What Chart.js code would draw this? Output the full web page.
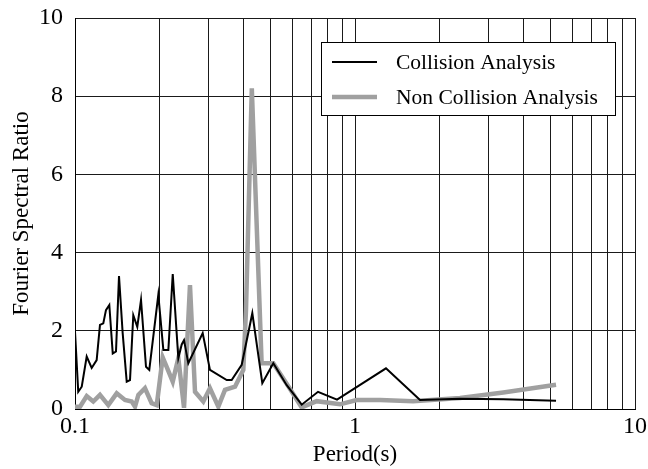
<!DOCTYPE html>
<html>
<head>
<meta charset="utf-8">
<script src="https://cdn.jsdelivr.net/npm/chart.js@4.4.1/dist/chart.umd.min.js"></script>
<style>
  html, body { margin: 0; padding: 0; background: #fff; }
  #wrap { width: 648px; height: 469px; }
</style>
</head>
<body>
<div id="wrap"><canvas id="spectra"></canvas></div>
<script>
// periods (s) and Fourier spectral ratios
const collisionPeriod = [0.1, 0.1027, 0.1057, 0.1101, 0.1147, 0.1195, 0.1228, 0.1262, 0.129, 0.1326,
  0.1364, 0.1401, 0.1436, 0.148, 0.153, 0.1572, 0.1615, 0.1669, 0.1721, 0.1793,
  0.1842, 0.1984, 0.2068, 0.2155, 0.2234, 0.2339, 0.2405, 0.2451, 0.2539, 0.2858,
  0.3034, 0.3482, 0.3627, 0.3939, 0.4298, 0.4666, 0.5108, 0.5703, 0.6451, 0.7378,
  0.8625, 1.29, 1.707, 2.371, 3.385, 5.224];
const collisionRatio = [1.98, 0.44, 0.57, 1.34, 1.05, 1.25, 2.15, 2.19, 2.53, 2.66,
  1.42, 1.47, 3.4, 1.94, 0.7, 0.74, 2.4, 2.1, 2.79, 1.08,
  1.0, 2.92, 1.51, 1.51, 3.45, 1.3, 1.65, 1.76, 1.17, 1.94,
  1.0, 0.74, 0.74, 1.13, 2.45, 0.66, 1.17, 0.61, 0.11, 0.44,
  0.24, 1.04, 0.23, 0.26, 0.25, 0.21];

const nonCollisionPeriod = [0.1, 0.1042, 0.1101, 0.1162, 0.1228, 0.1315, 0.1409, 0.1508, 0.1594, 0.1638,
  0.1684, 0.1778, 0.1878, 0.1959, 0.2057, 0.2125, 0.2234, 0.2339, 0.2451, 0.2574,
  0.2683, 0.2872, 0.3034, 0.325, 0.3433, 0.3728, 0.3991, 0.408, 0.428, 0.464,
  0.5108, 0.5855, 0.6451, 0.7295, 0.8838, 1.0136, 1.2296, 1.6124, 2.371, 3.385, 5.224];
const nonCollisionRatio = [0.06, 0.06, 0.33, 0.19, 0.36, 0.1, 0.4, 0.23, 0.19, 0.06,
  0.36, 0.53, 0.15, 0.1, 1.32, 1.08, 0.7, 1.3, 0.03, 3.17,
  0.44, 0.19, 0.53, 0.06, 0.49, 0.57, 1.0, 2.53, 8.2, 1.17,
  1.17, 0.52, 0.04, 0.2, 0.12, 0.23, 0.23, 0.2, 0.28, 0.42, 0.62];

const xGridTicks = [0.1, 0.2, 0.3, 0.4, 0.5, 0.6, 0.7, 0.8, 0.9,
  1, 2, 3, 4, 5, 6, 7, 8, 9, 10];
const xTickLabels = { 0.1: '0.1', 1: '1', 10: '10' };

function toPoints(xs, ys) {
  return xs.map((x, i) => ({ x: x, y: ys[i] }));
}

const serif = 'Liberation Serif';

// legend drawn as a framed box inside the plot, upper right
const boxLegend = {
  id: 'boxLegend',
  afterDraw(chart) {
    const ctx = chart.ctx;
    const left = 321, top = 42, w = 294, h = 73;
    ctx.save();
    ctx.fillStyle = '#fff';
    ctx.fillRect(left, top, w, h);
    ctx.strokeStyle = '#000';
    ctx.lineWidth = 1;
    ctx.strokeRect(left + 0.5, top + 0.5, w, h);
    chart.data.datasets.forEach((ds, i) => {
      const y = top + 20 + i * 35;
      ctx.strokeStyle = ds.borderColor;
      ctx.lineWidth = ds.borderWidth;
      ctx.beginPath();
      ctx.moveTo(left + 11, y);
      ctx.lineTo(left + 56, y);
      ctx.stroke();
      ctx.fillStyle = '#000';
      ctx.font = '21.5px ' + serif;
      ctx.textBaseline = 'middle';
      ctx.fillText(ds.label, left + 75, y + 1);
    });
    ctx.restore();
  }
};

new Chart(document.getElementById('spectra'), {
  type: 'line',
  data: {
    datasets: [{
      label: 'Collision Analysis',
      data: toPoints(collisionPeriod, collisionRatio),
      borderColor: '#000',
      borderWidth: 2,
      pointRadius: 0,
      tension: 0,
      order: 1
    }, {
      label: 'Non Collision Analysis',
      data: toPoints(nonCollisionPeriod, nonCollisionRatio),
      borderColor: '#a0a0a0',
      borderWidth: 4.5,
      pointRadius: 0,
      tension: 0,
      order: 2
    }]
  },
  options: {
    responsive: true,
    maintainAspectRatio: false,
    animation: false,
    layout: { padding: { top: 18, right: 13, left: 0, bottom: 0 } },
    plugins: {
      legend: { display: false },
      tooltip: { enabled: false }
    },
    scales: {
      x: {
        type: 'logarithmic',
        min: 0.1,
        max: 10,
        afterBuildTicks: function (scale) {
          scale.ticks = xGridTicks.map(v => ({ value: v }));
        },
        afterFit: function (scale) {
          scale.height = 60;
          scale.paddingLeft = 0;
          scale.paddingRight = 0;
        },
        grid: { color: '#1a1a1a', lineWidth: 1, drawTicks: false },
        border: { color: '#000', width: 1 },
        ticks: {
          autoSkip: false,
          maxRotation: 0,
          padding: 3,
          color: '#000',
          font: { family: serif, size: 24 },
          callback: function (value) {
            return xTickLabels[value] || '';
          }
        },
        title: {
          display: true,
          text: 'Period(s)',
          color: '#000',
          font: { family: serif, size: 23 },
          padding: { top: 0, bottom: 0 }
        }
      },
      y: {
        min: 0,
        max: 10,
        afterFit: function (scale) {
          scale.width = 75;
          // let the layout padding alone fix the plot top
          scale.paddingTop = 0;
          scale.paddingBottom = 0;
        },
        grid: { color: '#1a1a1a', lineWidth: 1, drawTicks: false },
        border: { color: '#000', width: 1 },
        ticks: {
          stepSize: 2,
          padding: 12,
          color: '#000',
          font: { family: serif, size: 24 }
        },
        title: {
          display: true,
          text: 'Fourier Spectral Ratio',
          color: '#000',
          font: { family: serif, size: 23 },
          padding: { top: 8, bottom: 0 }
        }
      }
    }
  },
  plugins: [boxLegend]
});
</script>
</body>
</html>
